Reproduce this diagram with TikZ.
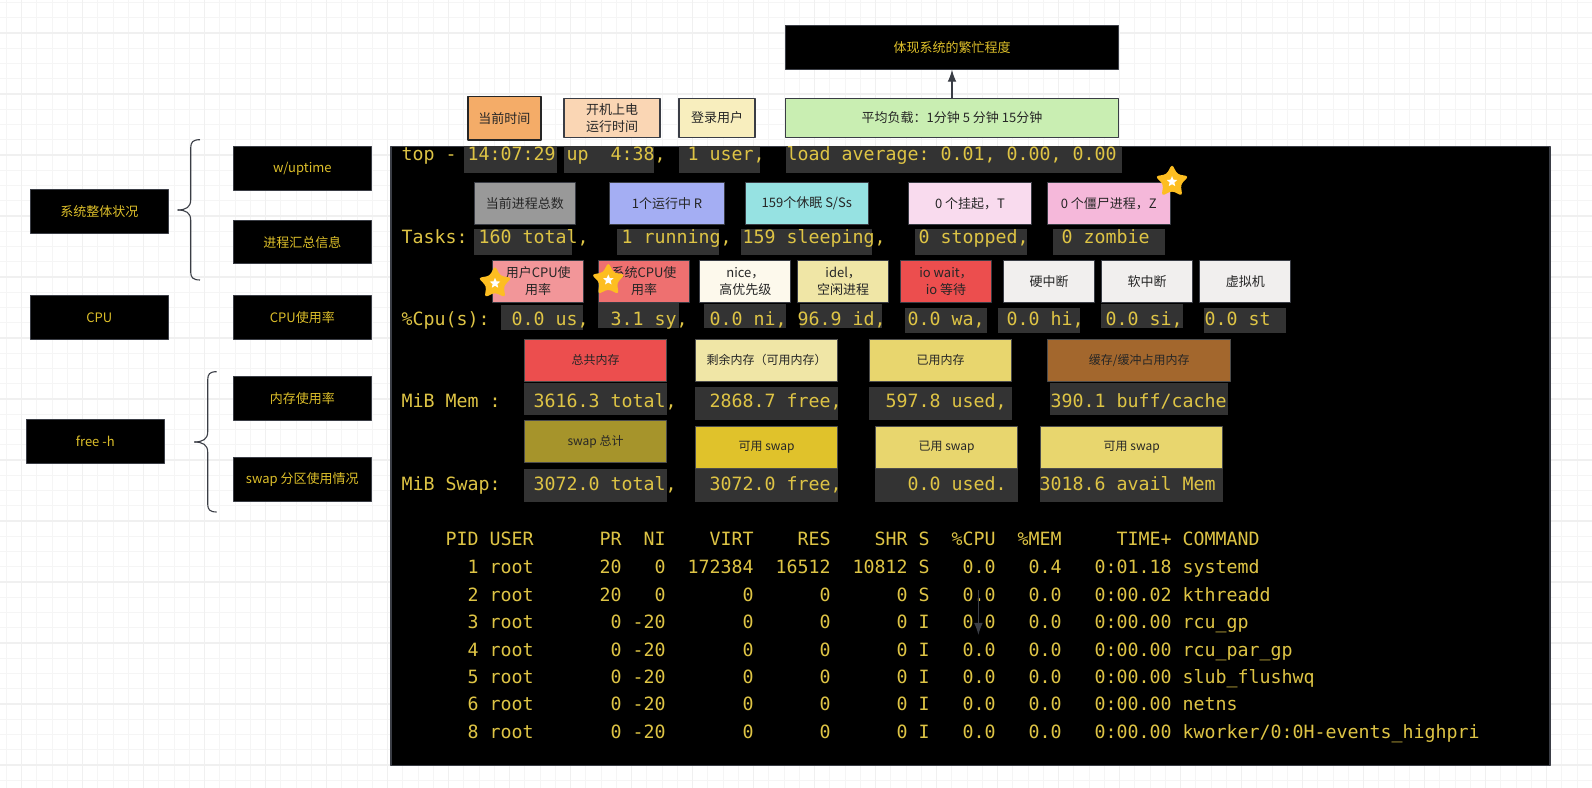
\documentclass[tikz,border=0pt]{standalone}
\usepackage{fontspec}
\setmainfont{Noto Sans CJK SC}
\newfontfamily\termfont{DejaVu Sans Mono}
\usetikzlibrary{arrows.meta}
\usetikzlibrary{shapes.geometric}
\definecolor{goldtext}{HTML}{DDBF2A}
\definecolor{termgold}{HTML}{DEC445}
\definecolor{edgegray}{HTML}{3A3D45}
\tikzset{
  blackbox/.style={draw=edgegray,fill=black,text=goldtext,line width=0.9bp,inner sep=0pt,
    font=\fontsize{13bp}{17bp}\selectfont,align=center},
  notebox/.style={draw=edgegray,line width=1.1bp,inner sep=0pt,text=black!85,
    font=\fontsize{13bp}{17bp}\selectfont,align=center},
  membox/.style={notebox,draw=black!70,font=\fontsize{12bp}{16bp}\selectfont},
  hlbox/.style={fill=black!80,inner sep=0pt},
  termrow/.style={anchor=base west,inner sep=0pt,text=termgold,
    font=\termfont\fontsize{18.27bp}{22bp}\selectfont\frenchspacing},
  goldstar/.style={star,star points=5,star point ratio=1.9,minimum size=35bp,inner sep=0pt,
    fill={rgb,255:red,253;green,190;blue,33},rounded corners=3bp},
  whitestar/.style={star,star points=5,star point ratio=2.2,minimum size=11bp,inner sep=0pt,fill=white},
  bracepath/.style={draw=edgegray,line width=1.1bp},
  bigtip/.style={-{Latex[length=12bp,width=8.7bp]}},
}
\begin{document}
\begin{tikzpicture}[>=latex,line join=bevel,]
\useasboundingbox (0bp,0bp) rectangle (1592bp,788bp);
%% page grid
\draw [black!4,line width=1bp,xshift=6.45bp,yshift=7.75bp,xstep=15.25bp,ystep=15.25bp] (-6.45bp,-7.75bp) grid (1585.55bp,780.25bp);
\draw [black!6,line width=1.3bp,xshift=21.7bp,yshift=23bp,xstep=61bp,ystep=61bp] (-21.7bp,-23bp) grid (1570.3bp,765bp);
%% left column
\node (sys_state) at (99.3bp,576.5bp) [blackbox,minimum width=138bp,minimum height=43.6bp] {系统整体状况};
\node (cpu_head) at (99.3bp,470.5bp) [blackbox,minimum width=138bp,minimum height=43.6bp] {CPU};
\node (free_cmd) at (95.3bp,346.5bp) [blackbox,minimum width=138bp,minimum height=43.6bp] {free -h};
\node (w_uptime) at (302.3bp,619.5bp) [blackbox,minimum width=138bp,minimum height=43.6bp] {w/uptime};
\node (task_info) at (302.3bp,545.85bp) [blackbox,minimum width=138bp,minimum height=43.6bp] {进程汇总信息};
\node (cpu_rate) at (302.3bp,470.5bp) [blackbox,minimum width=138bp,minimum height=43.6bp] {CPU使用率};
\node (mem_rate) at (302.3bp,389.5bp) [blackbox,minimum width=138bp,minimum height=43.6bp] {内存使用率};
\node (swap_rate) at (302.3bp,308.5bp) [blackbox,minimum width=138bp,minimum height=43.6bp] {swap 分区使用情况};
%% braces
\coordinate (brace_1_top) at (200bp,648.3bp);
\coordinate (brace_1_tip) at (177.7bp,578bp);
\coordinate (brace_1_bot) at (200bp,508bp);
\coordinate (brace_2_top) at (216.7bp,416.3bp);
\coordinate (brace_2_tip) at (194.3bp,346bp);
\coordinate (brace_2_bot) at (216.7bp,276bp);
\draw [bracepath] (brace_1_top) ..controls (193bp,648.3bp) and (190.7bp,646bp) .. (190.7bp,640bp) -- (190.7bp,588bp) ..controls (190.7bp,581bp) and (186bp,578bp) .. (brace_1_tip);
\draw [bracepath] (brace_1_tip) ..controls (186bp,578bp) and (190.7bp,575bp) .. (190.7bp,568bp) -- (190.7bp,516bp) ..controls (190.7bp,510.5bp) and (193bp,508bp) .. (brace_1_bot);
\draw [bracepath] (brace_2_top) ..controls (209.7bp,416.3bp) and (207.7bp,414bp) .. (207.7bp,408bp) -- (207.7bp,356bp) ..controls (207.7bp,349bp) and (203bp,346bp) .. (brace_2_tip);
\draw [bracepath] (brace_2_tip) ..controls (203bp,346bp) and (207.7bp,343bp) .. (207.7bp,336bp) -- (207.7bp,284bp) ..controls (207.7bp,278.5bp) and (209.7bp,276bp) .. (brace_2_bot);
%% top row
\node (load_note) at (952bp,740.5bp) [blackbox,minimum width=332.7bp,minimum height=43.6bp] {体现系统的繁忙程度};
\node (load_box) at (952bp,670bp) [notebox,fill={rgb,255:red,201;green,238;blue,178},minimum width=332.7bp,minimum height=38.6bp] {平均负载：1分钟 5 分钟 15分钟};
\node (now_box) at (504.4bp,669.7bp) [notebox,draw=black!85,line width=1.5bp,fill={rgb,255:red,244;green,172;blue,104},minimum width=73bp,minimum height=43.3bp] {当前时间};
\node (boot_box) at (612bp,670bp) [notebox,fill={rgb,255:red,250;green,214;blue,180},minimum width=96bp,minimum height=38.6bp] {开机上电\\运行时间};
\node (user_box) at (717bp,670bp) [notebox,fill={rgb,255:red,248;green,238;blue,190},minimum width=76bp,minimum height=38.6bp] {登录用户};
\draw [edgegray,bigtip,line width=1.1bp] (load_box) -- (load_note);
%% terminal
\node (term_bg) at (970.5bp,332bp) [draw=edgegray,line width=1.1bp,fill=black,inner sep=0pt,minimum width=1159bp,minimum height=619.3bp] {};
%% highlights
\node (hl_a1) at (510.5bp,628.35bp) [hlbox,minimum width=93bp,minimum height=26.7bp] {};
\node (hl_a2) at (609bp,628.35bp) [hlbox,minimum width=90bp,minimum height=26.7bp] {};
\node (hl_a3) at (719.5bp,628.35bp) [hlbox,minimum width=81bp,minimum height=26.7bp] {};
\node (hl_a4) at (954bp,628.35bp) [hlbox,minimum width=336bp,minimum height=26.7bp] {};
\node (hl_b1) at (522.85bp,545.85bp) [hlbox,minimum width=98bp,minimum height=25.7bp] {};
\node (hl_b2) at (668bp,545.85bp) [hlbox,minimum width=102bp,minimum height=25.7bp] {};
\node (hl_b3) at (806.5bp,545.85bp) [hlbox,minimum width=131bp,minimum height=25.7bp] {};
\node (hl_b4) at (971bp,545.85bp) [hlbox,minimum width=112bp,minimum height=25.7bp] {};
\node (hl_b5) at (1109bp,545.85bp) [hlbox,minimum width=112bp,minimum height=25.7bp] {};
\node (hl_c1) at (541.8bp,470.5bp) [hlbox,minimum width=81.6bp,minimum height=25bp] {};
\node (hl_c2) at (638.3bp,472.5bp) [hlbox,minimum width=81.6bp,minimum height=25bp] {};
\node (hl_c3) at (744.85bp,472bp) [hlbox,minimum width=82bp,minimum height=24bp] {};
\node (hl_c4) at (841.25bp,472bp) [hlbox,minimum width=82bp,minimum height=24bp] {};
\node (hl_c5) at (946.35bp,467.65bp) [hlbox,minimum width=82bp,minimum height=24.7bp] {};
\node (hl_c6) at (1039.3bp,467.65bp) [hlbox,minimum width=82bp,minimum height=24.7bp] {};
\node (hl_c7) at (1142bp,472bp) [hlbox,minimum width=82bp,minimum height=24bp] {};
\node (hl_c8) at (1245bp,467.65bp) [hlbox,minimum width=81.4bp,minimum height=24.7bp] {};
\node (hl_d1) at (595.5bp,389bp) [hlbox,minimum width=143bp,minimum height=32bp] {};
\node (hl_d2) at (766.5bp,384.5bp) [hlbox,minimum width=143bp,minimum height=33bp] {};
\node (hl_d3) at (940.5bp,384.5bp) [hlbox,minimum width=143bp,minimum height=33bp] {};
\node (hl_d4) at (1139bp,389bp) [hlbox,minimum width=178bp,minimum height=32bp] {};
\node (hl_e1) at (595.5bp,302.5bp) [hlbox,minimum width=143bp,minimum height=32.4bp] {};
\node (hl_e2) at (766.5bp,302.5bp) [hlbox,minimum width=143bp,minimum height=32.4bp] {};
\node (hl_e3) at (946.5bp,302.5bp) [hlbox,minimum width=143bp,minimum height=32.4bp] {};
\node (hl_e4) at (1131.5bp,302.5bp) [hlbox,minimum width=183bp,minimum height=32.4bp] {};
%% tasks labels
\node (task_total) at (524.9bp,584.7bp) [notebox,fill=black!40,minimum width=101bp,minimum height=42bp] {当前进程总数};
\node (task_run) at (667bp,584.7bp) [notebox,fill={rgb,255:red,164;green,174;blue,243},minimum width=114.8bp,minimum height=42bp] {1个运行中 R};
\node (task_sleep) at (806.8bp,584.7bp) [notebox,fill={rgb,255:red,150;green,226;blue,226},minimum width=123bp,minimum height=42bp] {159个休眠 S/Ss};
\node (task_stop) at (970bp,584.7bp) [notebox,fill={rgb,255:red,249;green,219;blue,238},minimum width=123bp,minimum height=42bp] {0 个挂起，T};
\node (task_zomb) at (1108.8bp,584.7bp) [notebox,fill={rgb,255:red,245;green,184;blue,218},minimum width=123bp,minimum height=42bp] {0 个僵尸进程，Z};
%% cpu labels
\node (cpu_us) at (538.2bp,506.5bp) [notebox,fill={rgb,255:red,242;green,150;blue,153},minimum width=91bp,minimum height=41.6bp] {用户CPU使\\用率};
\node (cpu_sy) at (644bp,506.5bp) [notebox,fill={rgb,255:red,238;green,112;blue,112},minimum width=91bp,minimum height=41.6bp] {系统CPU使\\用率};
\node (cpu_ni) at (745.4bp,506.5bp) [notebox,fill={rgb,255:red,253;green,249;blue,236},minimum width=91bp,minimum height=41.6bp] {nice，\\高优先级};
\node (cpu_id) at (843.2bp,506.5bp) [notebox,fill={rgb,255:red,240;green,230;blue,166},minimum width=91bp,minimum height=41.6bp] {idel，\\空闲进程};
\node (cpu_wa) at (946bp,506.5bp) [notebox,fill={rgb,255:red,236;green,78;blue,78},minimum width=91bp,minimum height=41.6bp] {io wait，\\io 等待};
\node (cpu_hi) at (1049bp,506.5bp) [notebox,fill={rgb,255:red,241;green,239;blue,238},minimum width=91bp,minimum height=41.6bp] {硬中断};
\node (cpu_si) at (1147.2bp,506.5bp) [notebox,fill={rgb,255:red,241;green,239;blue,238},minimum width=91bp,minimum height=41.6bp] {软中断};
\node (cpu_st) at (1245.4bp,506.5bp) [notebox,fill={rgb,255:red,241;green,239;blue,238},minimum width=91bp,minimum height=41.6bp] {虚拟机};
%% memory labels
\node (mem_total) at (595.6bp,427.7bp) [membox,fill={rgb,255:red,236;green,78;blue,78},minimum width=141.8bp,minimum height=42bp] {总共内存};
\node (mem_free) at (766.6bp,427.7bp) [membox,fill={rgb,255:red,240;green,230;blue,166},minimum width=141.8bp,minimum height=42bp] {剩余内存（可用内存）};
\node (mem_used) at (940.6bp,427.7bp) [membox,fill={rgb,255:red,232;green,214;blue,110},minimum width=141.8bp,minimum height=42bp] {已用内存};
\node (mem_buff) at (1139.2bp,427.7bp) [membox,fill={rgb,255:red,163;green,103;blue,45},minimum width=183bp,minimum height=42bp] {缓存/缓冲占用内存};
\node (swap_total) at (595.6bp,346.5bp) [membox,fill={rgb,255:red,166;green,148;blue,43},minimum width=141.8bp,minimum height=41.6bp] {swap 总计};
\node (swap_free) at (766.6bp,340.5bp) [membox,fill={rgb,255:red,224;green,194;blue,43},minimum width=141.8bp,minimum height=41.6bp] {可用 swap};
\node (swap_used) at (946.6bp,340.5bp) [membox,fill={rgb,255:red,232;green,214;blue,110},minimum width=142.4bp,minimum height=41.6bp] {已用 swap};
\node (swap_avail) at (1131.7bp,340.5bp) [membox,fill={rgb,255:red,232;green,214;blue,110},minimum width=182bp,minimum height=41.6bp] {可用 swap};
%% terminal text
\node (row_top) at (401.4bp,627.3bp) [termrow] {top - 14:07:29 up~~4:38,~~1 user,~~load average: 0.01, 0.00, 0.00};
\node (row_tasks) at (401.4bp,544bp) [termrow] {Tasks: 160 total,~~~1 running, 159 sleeping,~~~0 stopped,~~~0 zombie};
\node (row_cpu) at (401.4bp,462bp) [termrow] {\%Cpu(s):~~0.0 us,~~3.1 sy,~~0.0 ni, 96.9 id,~~0.0 wa,~~0.0 hi,~~0.0 si,~~0.0 st};
\node (row_mem) at (401.4bp,380bp) [termrow] {MiB Mem :~~~3616.3 total,~~~2868.7 free,~~~~597.8 used,~~~~390.1 buff/cache};
\node (row_swap) at (401.4bp,297.3bp) [termrow] {MiB Swap:~~~3072.0 total,~~~3072.0 free,~~~~~~0.0 used.~~~3018.6 avail Mem};
\node (row_head) at (401.4bp,242.3bp) [termrow] {~~~~PID USER~~~~~~PR~~NI~~~~VIRT~~~~RES~~~~SHR S~~\%CPU~~\%MEM~~~~~TIME+ COMMAND};
\node (row_p1) at (401.4bp,214bp) [termrow] {~~~~~~1 root~~~~~~20~~~0~~172384~~16512~~10812 S~~~0.0~~~0.4~~~0:01.18 systemd};
\node (row_p2) at (401.4bp,186.6bp) [termrow] {~~~~~~2 root~~~~~~20~~~0~~~~~~~0~~~~~~0~~~~~~0 S~~~0.0~~~0.0~~~0:00.02 kthreadd};
\node (row_p3) at (401.4bp,159.2bp) [termrow] {~~~~~~3 root~~~~~~~0 -20~~~~~~~0~~~~~~0~~~~~~0 I~~~0.0~~~0.0~~~0:00.00 rcu\_gp};
\node (row_p4) at (401.4bp,131.8bp) [termrow] {~~~~~~4 root~~~~~~~0 -20~~~~~~~0~~~~~~0~~~~~~0 I~~~0.0~~~0.0~~~0:00.00 rcu\_par\_gp};
\node (row_p5) at (401.4bp,104.4bp) [termrow] {~~~~~~5 root~~~~~~~0 -20~~~~~~~0~~~~~~0~~~~~~0 I~~~0.0~~~0.0~~~0:00.00 slub\_flushwq};
\node (row_p6) at (401.4bp,77bp) [termrow] {~~~~~~6 root~~~~~~~0 -20~~~~~~~0~~~~~~0~~~~~~0 I~~~0.0~~~0.0~~~0:00.00 netns};
\node (row_p8) at (401.4bp,49.6bp) [termrow] {~~~~~~8 root~~~~~~~0 -20~~~~~~~0~~~~~~0~~~~~~0 I~~~0.0~~~0.0~~~0:00.00 kworker/0:0H-events\_highpri};
%% stray arrow and stars
\coordinate (stray_a) at (978.4bp,198bp);
\coordinate (stray_b) at (978.4bp,153bp);
\draw [edgegray,bigtip,line width=1.1bp] (stray_a) -- (stray_b);
\node (star_zomb) at (1172bp,606.3bp) [goldstar] {};
\node (star_zomb_in) at (1172bp,606.3bp) [whitestar] {};
\node (star_us) at (495bp,504.7bp) [goldstar] {};
\node (star_us_in) at (495bp,504.7bp) [whitestar] {};
\node (star_sy) at (608.3bp,508bp) [goldstar] {};
\node (star_sy_in) at (608.3bp,508bp) [whitestar] {};
%
\end{tikzpicture}
\end{document}
